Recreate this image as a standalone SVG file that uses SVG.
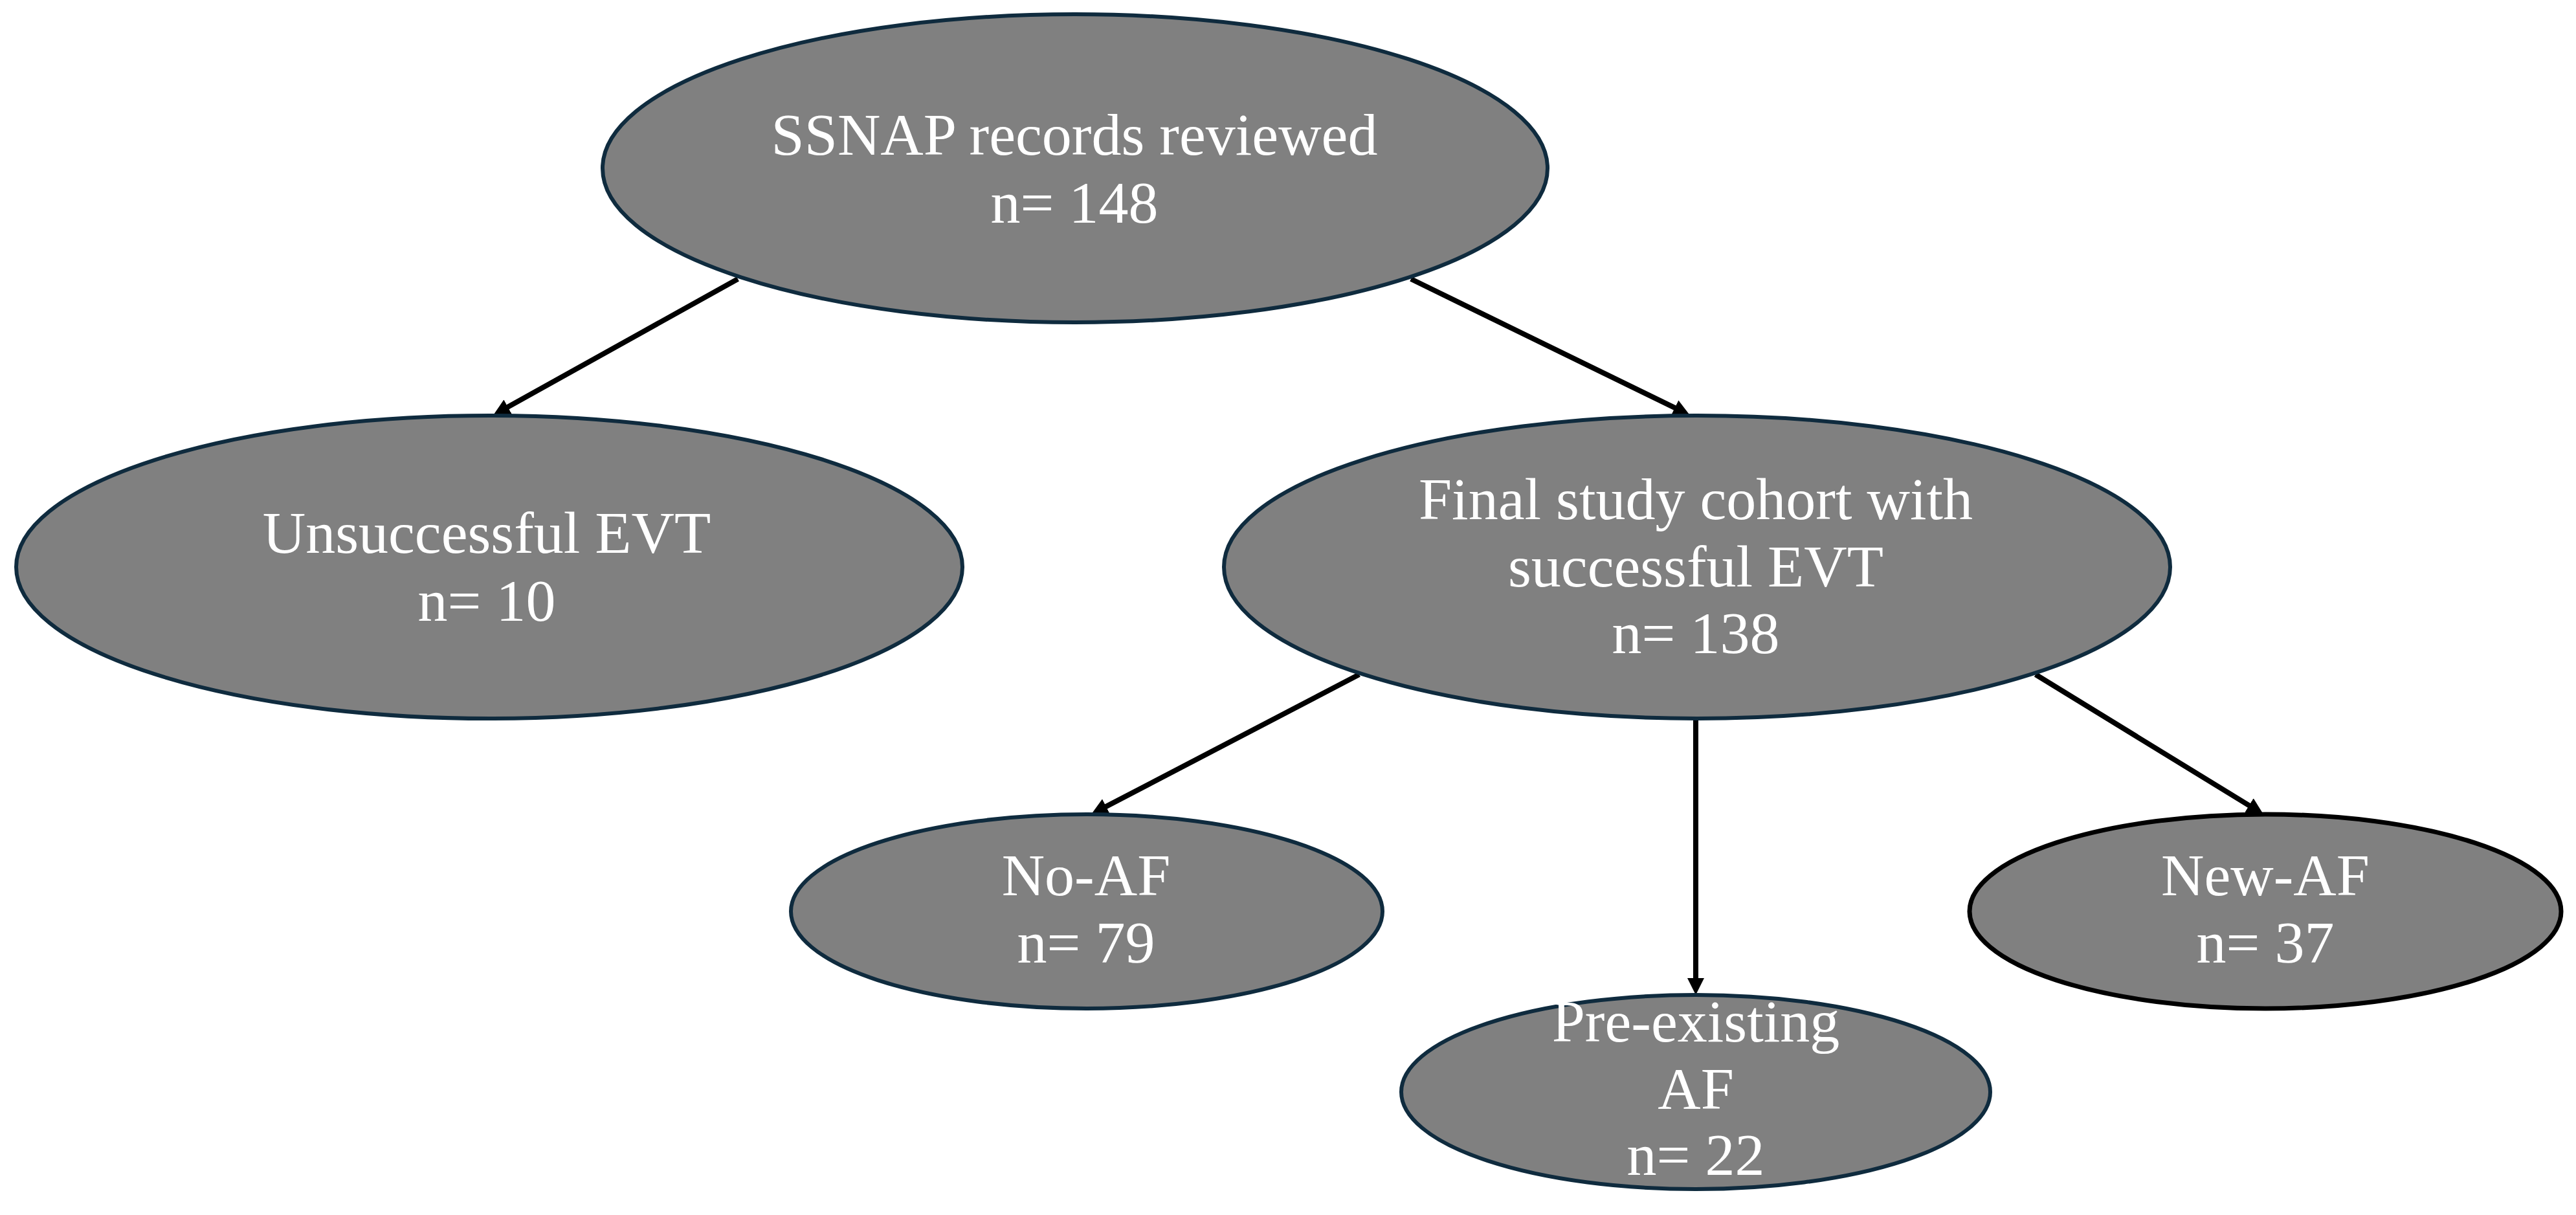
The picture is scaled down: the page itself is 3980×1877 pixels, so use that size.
<svg xmlns="http://www.w3.org/2000/svg" width="3980" height="1877" viewBox="0 0 3980 1877">
<style>
.node{fill:#808080;stroke:#0f2b3e;stroke-width:6}
.dark{stroke:#000;stroke-width:7}
.lbl{font-family:"Liberation Serif","Times New Roman",serif;font-size:92px;fill:#fff;text-anchor:middle}
.conn{stroke:#000;stroke-width:8;fill:none;marker-end:url(#arrow)}
</style>
<defs>
<marker id="arrow" markerUnits="userSpaceOnUse" markerWidth="30" markerHeight="28" refX="14" refY="14" orient="auto">
<path d="M0,1 L26,14 L0,27 z" fill="#000"/>
</marker>
</defs>
<rect width="3980" height="1877" fill="#fff"/>
<g id="connectors">
<line class="conn" x1="1140" y1="431" x2="772.5" y2="635.6"/>
<line class="conn" x1="2180" y1="431" x2="2600.2" y2="636.2"/>
<line class="conn" x1="2100" y1="1042" x2="1696.6" y2="1252.4"/>
<line class="conn" x1="2620" y1="1112" x2="2620" y2="1525"/>
<line class="conn" x1="3145" y1="1042" x2="3486.8" y2="1251.7"/>
</g>
<g id="ssnap">
<ellipse class="node" cx="1661" cy="260" rx="730" ry="238"/>
<text class="lbl" x="1660" y="239">SSNAP records reviewed</text>
<text class="lbl" x="1660" y="344">n= 148</text>
</g>
<g id="unsuccessful">
<ellipse class="node" cx="756" cy="876" rx="731" ry="234"/>
<text class="lbl" x="752" y="854">Unsuccessful EVT</text>
<text class="lbl" x="752" y="959">n= 10</text>
</g>
<g id="final">
<ellipse class="node" cx="2622" cy="876" rx="731" ry="234"/>
<text class="lbl" x="2620" y="802">Final study cohort with</text>
<text class="lbl" x="2620" y="906">successful EVT</text>
<text class="lbl" x="2620" y="1009">n= 138</text>
</g>
<g id="noaf">
<ellipse class="node" cx="1679" cy="1408" rx="457" ry="150"/>
<text class="lbl" x="1678" y="1383">No-AF</text>
<text class="lbl" x="1678" y="1487">n= 79</text>
</g>
<g id="preexisting">
<ellipse class="node" cx="2620" cy="1687" rx="455" ry="150"/>
<text class="lbl" x="2620" y="1609">Pre-existing</text>
<text class="lbl" x="2620" y="1713">AF</text>
<text class="lbl" x="2620" y="1815">n= 22</text>
</g>
<g id="newaf">
<ellipse class="node dark" cx="3500" cy="1408" rx="457" ry="150"/>
<text class="lbl" x="3500" y="1383">New-AF</text>
<text class="lbl" x="3500" y="1487">n= 37</text>
</g>
</svg>
